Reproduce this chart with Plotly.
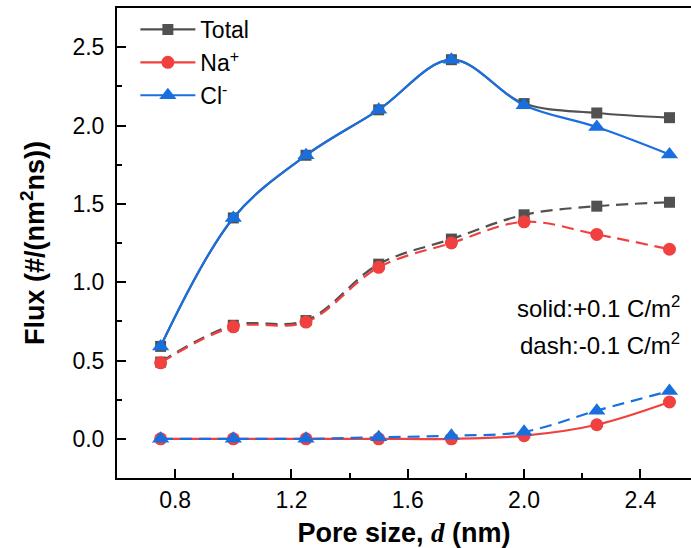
import plotly.graph_objects as go

# ---- data ----
pore_size = [0.75, 1.00, 1.25, 1.50, 1.75, 2.00, 2.25, 2.50]

total_pos = [0.59, 1.41, 1.81, 2.10, 2.42, 2.14, 2.08, 2.05]
na_pos    = [0.00, 0.00, 0.00, 0.00, 0.00, 0.02, 0.09, 0.235]
cl_pos    = [0.59, 1.41, 1.81, 2.10, 2.42, 2.13, 1.99, 1.815]

total_neg = [0.49, 0.725, 0.755, 1.115, 1.275, 1.43, 1.485, 1.51]
na_neg    = [0.485, 0.715, 0.745, 1.095, 1.25, 1.385, 1.305, 1.21]
cl_neg    = [0.00, 0.00, 0.00, 0.01, 0.02, 0.045, 0.18, 0.305]

names = ["Total", "Na<sup>+</sup>", "Cl<sup>-</sup>"]
colors = ["#515151", "#F14040", "#1A6FDF"]
symbols = ["square", "circle", "triangle-up"]
msizes = [11, 13, 15]

y_ticks = [0.0, 0.5, 1.0, 1.5, 2.0, 2.5]
x_ticks = [0.8, 1.2, 1.6, 2.0, 2.4]

FONT = "Arial, Liberation Sans, sans-serif"

fig = go.Figure()
pairs = [(total_pos, total_neg), (na_pos, na_neg), (cl_pos, cl_neg)]
for i, (pos, neg) in enumerate(pairs):
    fig.add_trace(go.Scatter(
        x=pore_size, y=pos, name=names[i], legendgroup=names[i],
        mode="lines+markers",
        line=dict(color=colors[i], width=2.2, shape="spline", smoothing=1.0),
        marker=dict(symbol=symbols[i], size=msizes[i], color=colors[i]),
        showlegend=True,
    ))
    fig.add_trace(go.Scatter(
        x=pore_size, y=neg, name=names[i], legendgroup=names[i],
        mode="lines+markers",
        line=dict(color=colors[i], width=2.2, shape="spline", smoothing=1.0, dash="12px,7px"),
        marker=dict(symbol=symbols[i], size=msizes[i], color=colors[i]),
        showlegend=False,
    ))

fig.add_annotation(text="solid:+0.1 C/m<sup>2</sup>", xref="paper", yref="y",
                   x=0.985, y=0.84, xanchor="right", yanchor="middle",
                   showarrow=False, font=dict(family=FONT, size=24, color="black"))
fig.add_annotation(text="dash:-0.1 C/m<sup>2</sup>", xref="paper", yref="y",
                   x=0.985, y=0.605, xanchor="right", yanchor="middle",
                   showarrow=False, font=dict(family=FONT, size=24, color="black"))

fig.update_layout(
    width=691, height=548,
    margin=dict(l=117, r=0, t=8, b=70),
    paper_bgcolor="white", plot_bgcolor="white",
    font=dict(family=FONT, size=23, color="black"),
    legend=dict(x=0.032, y=1.0, xanchor="left", yanchor="top",
                bgcolor="rgba(0,0,0,0)", font=dict(size=23),
                tracegroupgap=0, itemwidth=55),
    showlegend=True,
)

fig.update_xaxes(
    range=[0.6, 2.574], tickvals=x_ticks, ticktext=[f"{v:.1f}" for v in x_ticks],
    ticks="inside", ticklen=9, tickwidth=2, tickcolor="black",
    minor=dict(ticks="inside", ticklen=5, tickwidth=2, tickcolor="black", dtick=0.2, tick0=0.6),
    showline=True, linewidth=2, linecolor="black", mirror=True,
    showgrid=False, zeroline=False,
    tickfont=dict(size=23), ticklabelstandoff=0,
    title=dict(text="<b>Pore size, <span style='font-family:Liberation Serif, Times New Roman, serif'><i>d</i></span> (nm)</b>",
               font=dict(size=27), standoff=14),
)
fig.update_yaxes(
    range=[-0.25, 2.75], tickvals=y_ticks, ticktext=[f"{v:.1f}" for v in y_ticks],
    ticks="inside", ticklen=9, tickwidth=2, tickcolor="black",
    minor=dict(ticks="inside", ticklen=5, tickwidth=2, tickcolor="black", dtick=0.25, tick0=0),
    showline=True, linewidth=2, linecolor="black", mirror=False,
    showgrid=False, zeroline=False,
    tickfont=dict(size=23), ticklabelstandoff=6,
    title=dict(text="<b>Flux (#/(nm<sup>2</sup>ns))</b>", font=dict(size=27), standoff=20),
)

fig.write_html("out.html")
